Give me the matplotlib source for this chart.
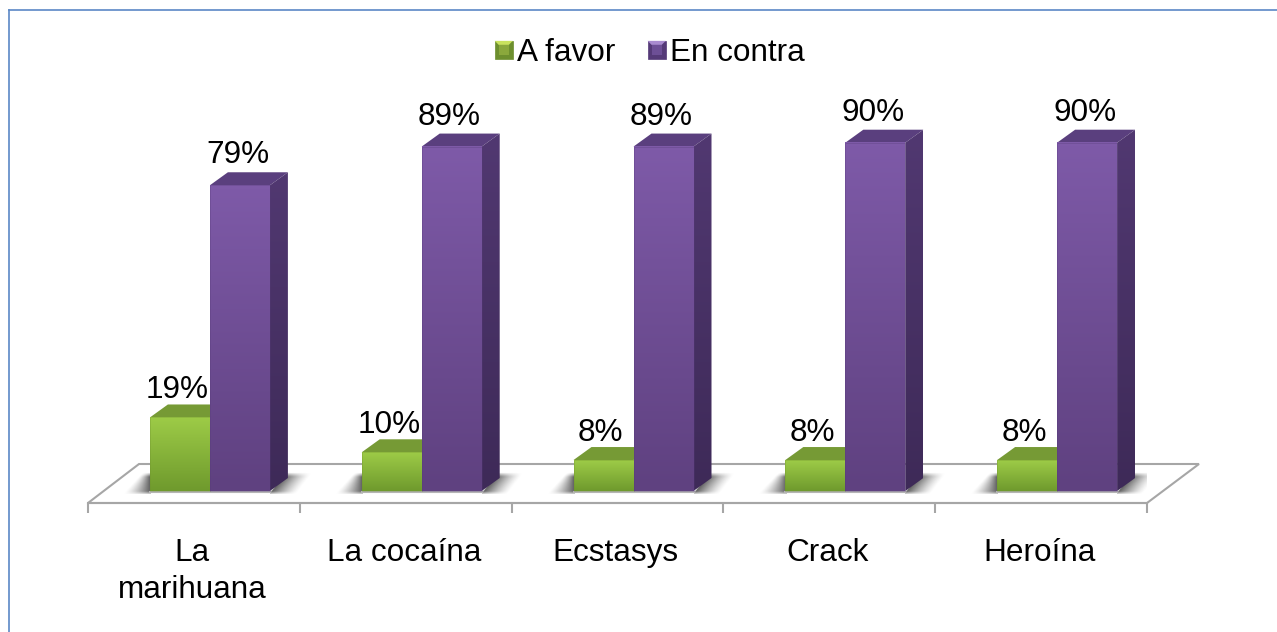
"""3D-look clustered bars: opinion for/against per drug."""
import matplotlib
matplotlib.use("Agg")

import numpy as np
import matplotlib.pyplot as plt
from matplotlib.legend_handler import HandlerPatch
from matplotlib.patches import Patch, Polygon, Rectangle

categories = ["La\nmarihuana", "La cocaína", "Ecstasys", "Crack", "Heroína"]
a_favor = [19, 10, 8, 8, 8]
en_contra = [79, 89, 89, 90, 90]
series_names = ["A favor", "En contra"]

W, H = 1277, 632
FONT = 22.7
GREY = "#a6a6a6"

# front face top/bottom, roof, side top/bottom, legend bevel top
GREEN = dict(top="#9dcb47", bottom="#6f9a2d", roof="#769a35", s1="#5f7f2a", s2="#55732a", hi="#c9e25e", leg="#8aa83c", edge="#6d8f2e")
PURPLE = dict(top="#7e5aa8", bottom="#5f4180", roof="#5a3f7e", s1="#513871", s2="#3e2a58", hi="#a98bd0", leg="#6d4f96", edge="#553a78")

plt.rcParams["font.family"] = ["Liberation Sans", "DejaVu Sans"]

fig = plt.figure(figsize=(W / 100, H / 100), dpi=100, facecolor="white")
# axes spans floor front edge, px 88..1147 across, px 503 up to px 60
ax = fig.add_axes([88 / W, 1 - 503 / H, 1059 / W, 443 / H])
ax.set_xlim(-0.5, 4.5)
px_y = 3.87
ax.set_ylim(-12 / px_y, 431 / px_y)
px_x = 1059 / 5

bar_w = 60 / px_x
shift = 16 / px_x  # bars sit towards the back of the floor
dep_x = 18 / px_x
dep_y = 13 / px_y


def gradient(ax, c1, c2, extent, zorder=3):
    cmap = matplotlib.colors.LinearSegmentedColormap.from_list("g", [c1, c2])
    grad = np.linspace(0, 1, 64).reshape(-1, 1)
    return ax.imshow(grad, cmap=cmap, extent=extent, origin="upper", aspect="auto",
                     interpolation="bilinear", zorder=zorder)


def bar3d(ax, x, val, col, zorder):
    x2 = x + bar_w
    ax.add_patch(Polygon([(x, val), (x2, val), (x2 + dep_x, val + dep_y), (x + dep_x, val + dep_y)],
                         fc=col["roof"], ec="none", zorder=zorder, clip_on=False))
    side = Polygon([(x2, 0), (x2 + dep_x, dep_y), (x2 + dep_x, val + dep_y), (x2, val)],
                   fc="none", ec="none", zorder=zorder, clip_on=False)
    ax.add_patch(side)
    im = gradient(ax, col["s1"], col["s2"], (x2, x2 + dep_x, 0, val + dep_y), zorder=zorder)
    im.set_clip_on(True)
    im.set_clip_path(side)
    gradient(ax, col["top"], col["bottom"], (x, x2, 0, val), zorder=zorder + 0.1)
    # darker rim around the front face
    ax.add_patch(Rectangle((x, 0), bar_w, val, fc="none", ec=col["edge"], lw=0.6, alpha=0.35,
                           zorder=zorder + 0.2, clip_on=False))


def shadow(ax, x_left, x_right):
    # soft floor shadow either side of a bar pair, faded in both directions
    low = -0.8
    top = 18 / px_y
    ext_l = (x_left - 27 / px_x, x_left + 1 / px_x, low, top)
    ext_r = (x_right, x_right + 44 / px_x, low, top)
    t = np.linspace(1, 0, 24)[:, None]  # 1 at far edge of floor, first row on top
    fade = np.clip((1 - t) * 5, 0, 1) * np.clip(t * 6 + 0.35, 0, 1)
    u_l = np.linspace(-27, 1, 56)[None, :]
    u_r = np.linspace(0, 44, 88)[None, :]
    a_l = np.clip(1 + u_l / (27 - 20 * t), 0, 1) ** 1.3
    a_r = np.clip(1 - (u_r - 18 * t) / (26 - 2 * t), 0, 1) ** 1.3 * (u_r > 18 * t - 1)
    for alpha, ext in [(a_l, ext_l), (a_r, ext_r)]:
        rgba = np.zeros(alpha.shape + (4,))
        rgba[..., :3] = 0.36
        rgba[..., 3] = alpha * fade * 0.95
        ax.imshow(rgba, extent=ext, aspect="auto", interpolation="bilinear", zorder=2)


# floor
back_y = 27 / px_y
ax.add_patch(Polygon([(-0.5, -12 / px_y), (4.5, -12 / px_y), (4.5 + 52 / px_x, back_y), (-0.5 + 51 / px_x, back_y)],
                     fc="white", ec=GREY, lw=1.5, zorder=1, clip_on=False))

for i in range(len(categories)):
    xg = i + shift - bar_w
    xp = i + shift
    shadow(ax, xg, xp + bar_w)
    ax.plot([xg, xp + bar_w], [-0.3, -0.3], color="#b5b5b5", lw=1.5, zorder=2)
    bar3d(ax, xg, a_favor[i], GREEN, 3)
    bar3d(ax, xp, en_contra[i], PURPLE, 4)
    ax.annotate(f"{a_favor[i]}%", (xg + bar_w / 2, a_favor[i]), xytext=(-2, 27 * 0.72), textcoords="offset points",
                ha="center", va="center", fontsize=FONT, color="black", zorder=6, annotation_clip=False)
    ax.annotate(f"{en_contra[i]}%", (xp + bar_w / 2, en_contra[i]), xytext=(-1.5, 30 * 0.72), textcoords="offset points",
                ha="center", va="center", fontsize=FONT, color="black", zorder=6, annotation_clip=False)

ax.set_xlim(-0.5, 4.5)
ax.set_ylim(-12 / px_y, 431 / px_y)
for side in ["left", "right", "top"]:
    ax.spines[side].set_visible(False)
ax.spines["bottom"].set_color(GREY)
ax.spines["bottom"].set_linewidth(1.5)
ax.set_yticks([])
ax.set_xticks(np.arange(-0.5, 5, 1))
ax.set_xticklabels([])
ax.tick_params(axis="x", which="major", length=7, width=1.5, color=GREY)
ax.set_xticks(np.arange(5) - 2 / px_x, labels=categories, minor=True)
ax.tick_params(axis="x", which="minor", length=0, pad=25.5, labelsize=FONT, labelcolor="black")
for t in ax.get_xticklabels(minor=True):
    t.set_linespacing(1.3)
ax.patch.set_alpha(0)


class BevelHandler(HandlerPatch):
    """Small bevelled legend square."""

    def __init__(self, col):
        super().__init__()
        self.col = col

    def create_artists(self, legend, orig, xd, yd, width, height, fontsize, trans):
        s = 13.0
        x0, y0 = -xd + width - s, -yd + (height - s) / 2
        b = s * 0.22
        col = self.col
        out = [Rectangle((x0, y0), s, s, fc=col["edge"], ec=col["edge"], lw=0.5, transform=trans)]
        out.append(Polygon([(x0, y0 + s), (x0 + s, y0 + s), (x0 + s - b, y0 + s - b), (x0 + b, y0 + s - b)],
                           fc=col["hi"], ec="none", transform=trans))
        out.append(Rectangle((x0 + b, y0 + b), s - 2 * b, s - 2 * b, fc=col["leg"], ec="none", transform=trans))
        return out


h1, h2 = Patch(label=series_names[0]), Patch(label=series_names[1])
fig.legend(handles=[h1, h2], loc="center", bbox_to_anchor=(649.5 / W, 1 - 53 / H), ncols=2, frameon=False,
           fontsize=FONT, handlelength=0.6, handleheight=0.6, handletextpad=0.15, columnspacing=0.98,
           borderpad=0, handler_map={h1: BevelHandler(GREEN), h2: BevelHandler(PURPLE)})

# chart frame runs off the image on the right and bottom
fig.add_artist(plt.Line2D([9 / W, 9 / W], [0, 1 - 10 / H], color="#5b88c6", lw=1.2))
fig.add_artist(plt.Line2D([9 / W, 1], [1 - 10 / H, 1 - 10 / H], color="#5b88c6", lw=1.2))

fig.savefig("out.png", dpi=100, facecolor="white")
plt.close(fig)
